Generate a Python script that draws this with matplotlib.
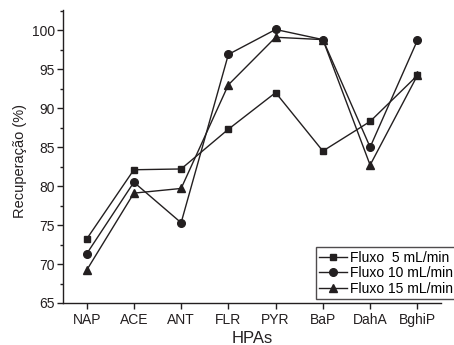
import numpy as np
import matplotlib
matplotlib.use("Agg")
import matplotlib.pyplot as plt
from matplotlib.ticker import MultipleLocator

plt.rcParams["font.family"] = ["Liberation Sans", "DejaVu Sans"]

hpas = ["NAP", "ACE", "ANT", "FLR", "PYR", "BaP", "DahA", "BghiP"]
fluxo_5 = [73.2, 82.1, 82.2, 87.3, 92.0, 84.5, 88.3, 94.2]
fluxo_10 = [71.3, 80.5, 75.3, 96.9, 100.1, 98.8, 85.0, 98.7]
fluxo_15 = [69.2, 79.1, 79.7, 93.0, 99.1, 98.8, 82.7, 94.2]
labels = ["Fluxo  5 mL/min", "Fluxo 10 mL/min", "Fluxo 15 mL/min"]

x = np.arange(len(hpas))

fig = plt.figure(figsize=(4.54, 3.45), dpi=100)
ax = fig.add_axes([63/454, 1-303/345, (441-63)/454, (303-10)/345])

col = "#231f20"
ax.plot(x, fluxo_5, "-s", color=col, lw=1, ms=5, label=labels[0])
ax.plot(x, fluxo_10, "-o", color=col, lw=1, ms=5.5, label=labels[1])
ax.plot(x, fluxo_15, "-^", color=col, lw=1, ms=6, label=labels[2])

ax.set_xlim(-0.5, 7.5)
ax.set_ylim(65, 102.6)
ax.set_xticks(x)
ax.set_xticklabels(hpas)
ax.yaxis.set_major_locator(MultipleLocator(5))
ax.yaxis.set_minor_locator(MultipleLocator(2.5))
ax.spines["top"].set_visible(False)
ax.spines["right"].set_visible(False)
for s in ("left", "bottom"):
    ax.spines[s].set_linewidth(1)
    ax.spines[s].set_color(col)
ax.tick_params(which="major", length=4, width=1, labelsize=10, colors=col)
ax.tick_params(which="minor", length=2.5, width=1, colors=col)
ax.tick_params(axis="y", pad=2)
ax.set_ylabel("Recuperação (%)", fontsize=10.5, color=col)
ax.yaxis.set_label_coords(-0.095, 0.485)
ax.set_xlabel("HPAs", fontsize=12, color=col)
ax.xaxis.set_label_coords(0.5, -0.097)

leg = ax.legend(loc="lower right", bbox_to_anchor=(456/454, 1-299/345),
                bbox_transform=fig.transFigure, fontsize=10, frameon=True,
                fancybox=False, handlelength=2.0, handletextpad=0.2,
                borderpad=0.25, labelspacing=0.1, borderaxespad=0)
leg.get_frame().set_edgecolor(col)
leg.get_frame().set_linewidth(1)

fig.savefig("out.png", dpi=100)
